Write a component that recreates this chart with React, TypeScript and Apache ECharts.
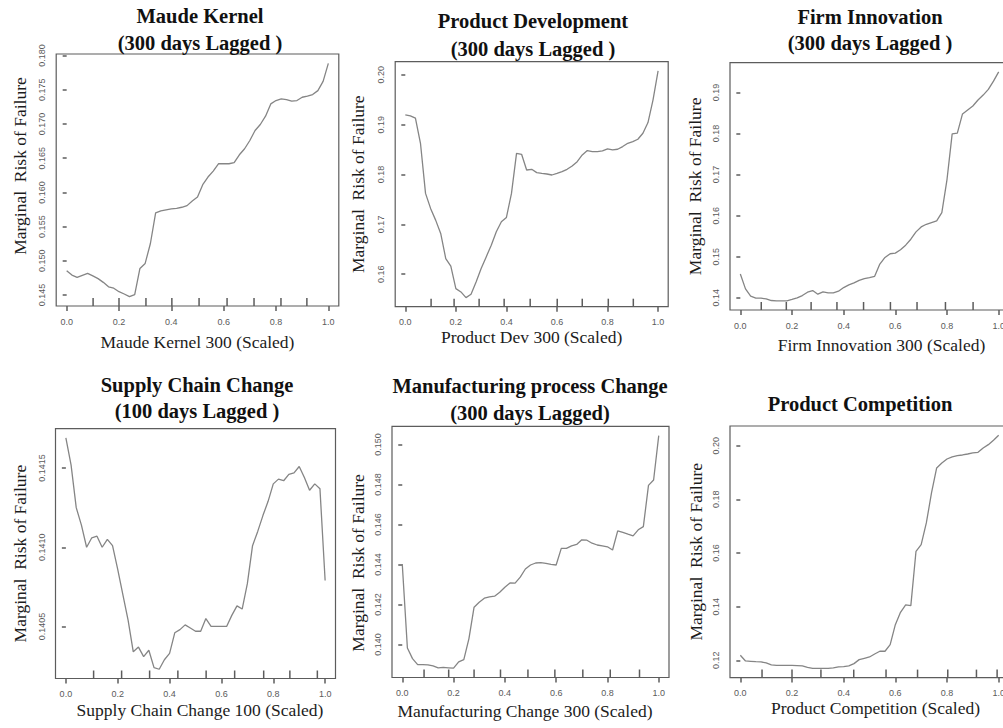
import React, { useEffect, useRef } from "react";
import * as echarts from "echarts";

// x grid used by the partial-dependence curves (51 points)
const X_GRID = [
  0, 0.02, 0.04, 0.06, 0.08, 0.1, 0.12, 0.14, 0.16, 0.18,
  0.2, 0.22, 0.24, 0.26, 0.28, 0.3, 0.32, 0.34, 0.36, 0.38,
  0.4, 0.42, 0.44, 0.46, 0.48, 0.5, 0.52, 0.54, 0.56, 0.58,
  0.6, 0.62, 0.64, 0.66, 0.68, 0.7, 0.72, 0.74, 0.76, 0.78,
  0.8, 0.82, 0.84, 0.86, 0.88, 0.9, 0.92, 0.94, 0.96, 0.98, 1.0,
];
const X_TICKS = [0, 0.2, 0.4, 0.6, 0.8, 1.0];

// Panel 1: Maude Kernel
const maudeY = [
  0.14855, 0.14792, 0.14758, 0.14787, 0.14816, 0.1478, 0.1474, 0.14685, 0.1462, 0.146,
  0.14549, 0.14515, 0.14476, 0.14505, 0.14889, 0.14962, 0.15253, 0.157, 0.15729, 0.15744,
  0.15759, 0.15768, 0.15783, 0.15807, 0.15875, 0.15933, 0.16113, 0.16225, 0.16312, 0.16419,
  0.16419, 0.16419, 0.16434, 0.1655, 0.16638, 0.16759, 0.16905, 0.16993, 0.17114, 0.17294,
  0.17343, 0.17367, 0.17357, 0.17333, 0.17343, 0.17391, 0.17406, 0.1743, 0.17488, 0.17624, 0.17887,
];
const maudeYTicks = [0.145, 0.15, 0.155, 0.16, 0.165, 0.17, 0.175, 0.18];
const maudeRug = [0.101, 0.2, 0.303, 0.402, 0.506, 0.613, 0.716, 0.819, 0.918];

// Panel 2: Product Development
const prodDevY = [
  0.19196, 0.19176, 0.19129, 0.18626, 0.17621, 0.1732, 0.17085, 0.16817, 0.16315, 0.16161,
  0.15712, 0.15645, 0.15531, 0.15598, 0.15846, 0.16114, 0.16348, 0.16583, 0.16851, 0.17052,
  0.17139, 0.17621, 0.18425, 0.18405, 0.1809, 0.18104, 0.18037, 0.18023, 0.1801, 0.1799,
  0.18023, 0.18057, 0.18104, 0.18171, 0.18258, 0.18392, 0.18479, 0.18459, 0.18459, 0.18472,
  0.18513, 0.18492, 0.18506, 0.1856, 0.18626, 0.1866, 0.18707, 0.18827, 0.19042, 0.19497, 0.2008,
];
const prodDevYTicks = [0.16, 0.17, 0.18, 0.19, 0.2];
const prodDevRug = [0.102, 0.193, 0.292, 0.391, 0.494, 0.601, 0.7, 0.803, 0.902];

// Panel 3: Firm Innovation
const firmY = [
  0.14581, 0.14218, 0.1404, 0.13992, 0.13992, 0.13976, 0.13935, 0.13927, 0.13927, 0.13927,
  0.1396, 0.14, 0.14056, 0.14137, 0.14177, 0.14089, 0.14145, 0.14121, 0.14121, 0.14161,
  0.1425, 0.14315, 0.14363, 0.14427, 0.14468, 0.14492, 0.14524, 0.14823, 0.14984, 0.15073,
  0.15089, 0.15169, 0.15282, 0.15427, 0.15605, 0.15726, 0.1579, 0.15831, 0.15871, 0.16073,
  0.16879, 0.17992, 0.18008, 0.18476, 0.18573, 0.18669, 0.18815, 0.18935, 0.19073, 0.19274, 0.195,
];
const firmYTicks = [0.14, 0.15, 0.16, 0.17, 0.18, 0.19];
const firmRug = [0.081, 0.178, 0.274, 0.374, 0.477, 0.581, 0.684, 0.794, 0.901];

// Panel 4: Supply Chain Change
const supplyY = [
  0.14169, 0.14152, 0.14125, 0.14114, 0.141, 0.14106, 0.14107, 0.141, 0.14105, 0.14101,
  0.14086, 0.1407, 0.14054, 0.14034, 0.14037, 0.14031, 0.14035, 0.14024, 0.14023, 0.14029,
  0.14033, 0.14046, 0.14048, 0.14051, 0.14049, 0.14047, 0.14047, 0.14055, 0.1405, 0.1405,
  0.1405, 0.1405, 0.14057, 0.14063, 0.14061, 0.14077, 0.14101, 0.1411, 0.1412, 0.14129,
  0.1414, 0.14143, 0.14142, 0.14146, 0.14147, 0.14151, 0.14144, 0.14136, 0.1414, 0.14137, 0.14079,
];
const supplyYTicks = [0.1405, 0.141, 0.1415];
const supplyRug = [0.107, 0.215, 0.323, 0.432, 0.541, 0.651, 0.763, 0.864, 0.97];

// Panel 5: Manufacturing process Change
const manufY = [
  0.14403, 0.13983, 0.1393, 0.139, 0.139, 0.13899, 0.13894, 0.13884, 0.13886, 0.13884,
  0.13882, 0.13914, 0.13925, 0.1403, 0.14187, 0.14212, 0.14232, 0.14239, 0.14242, 0.14262,
  0.14287, 0.14308, 0.14307, 0.14337, 0.14378, 0.14398, 0.14408, 0.1441, 0.14406, 0.14401,
  0.14398, 0.14481, 0.14481, 0.14494, 0.14501, 0.14524, 0.14522, 0.14507, 0.14498, 0.14494,
  0.14489, 0.14473, 0.14569, 0.14561, 0.14552, 0.14544, 0.14574, 0.1459, 0.14796, 0.14823, 0.15045,
];
const manufYTicks = [0.14, 0.142, 0.144, 0.146, 0.148, 0.15];
const manufRug = [0.085, 0.181, 0.28, 0.383, 0.49, 0.595, 0.704, 0.811, 0.925];

// Panel 6: Product Competition
const compY = [
  0.12187, 0.11975, 0.11963, 0.1195, 0.11938, 0.11901, 0.11826, 0.11814, 0.11814, 0.11814,
  0.11814, 0.11801, 0.11789, 0.11739, 0.11702, 0.11702, 0.11702, 0.11702, 0.11714, 0.11752,
  0.11764, 0.11789, 0.11876, 0.12025, 0.12075, 0.12124, 0.12236, 0.12336, 0.12336, 0.12584,
  0.13329, 0.13789, 0.14062, 0.14037, 0.16062, 0.16311, 0.17118, 0.18236, 0.19168, 0.19354,
  0.19503, 0.19578, 0.19627, 0.19652, 0.19689, 0.19727, 0.19752, 0.19913, 0.20037, 0.20199, 0.20385,
];
const compYTicks = [0.12, 0.14, 0.16, 0.18, 0.2];
const compRug = [0.084, 0.2, 0.312, 0.439, 0.564, 0.686, 0.803, 0.914, 0.994];

const Y_NAME = "Marginal  Risk of Failure";

const PANELS = [
  {
    title: "Maude Kernel\n(300 days Lagged )", tx: 200, ty: 29.3, tlh: 26.6,
    xName: "Maude Kernel 300 (Scaled)", box: [56.2, 54, 338.8, 306],
    ys: maudeY, yTicks: maudeYTicks, dec: 3, rug: maudeRug,
    xNameGap: 27, xNamePad: [0, 0, 0, 0], yNameGap: 27, yNamePad: [0, 0, 0, 28],
  },
  {
    title: "Product Development\n(300 days Lagged )", tx: 533, ty: 35.1, tlh: 28.8,
    xName: "Product Dev 300 (Scaled)", box: [395.2, 61.7, 668.2, 306.7],
    ys: prodDevY, yTicks: prodDevYTicks, dec: 2, rug: prodDevRug,
    xNameGap: 17, xNamePad: [0, 0, 0, 0], yNameGap: 28, yNamePad: [0, 0, 0, 0],
  },
  {
    title: "Firm Innovation\n(300 days Lagged )", tx: 870, ty: 29.7, tlh: 26,
    xName: "Firm Innovation 300 (Scaled)", box: [730, 62.7, 1009, 310],
    ys: firmY, yTicks: firmYTicks, dec: 2, rug: firmRug,
    xNameGap: 26, xNamePad: [0, 0, 0, 24], yNameGap: 26.5, yNamePad: [0, 0, 0, 0],
  },
  {
    title: "Supply Chain Change\n(100 days Lagged )", tx: 197, ty: 398, tlh: 26.6,
    xName: "Supply Chain Change 100 (Scaled)", box: [55.5, 428.7, 335.5, 678.5],
    ys: supplyY, yTicks: supplyYTicks, dec: 4, rug: supplyRug,
    xNameGap: 22, xNamePad: [0, 0, 0, 9], yNameGap: 27, yNamePad: [0, 0, 0, 0],
  },
  {
    title: "Manufacturing process Change\n(300 days Lagged)", tx: 530, ty: 399.5, tlh: 27.6,
    xName: "Manufacturing Change 300 (Scaled)", box: [392, 426.3, 669, 677.5],
    ys: manufY, yTicks: manufYTicks, dec: 3, rug: manufRug,
    xNameGap: 24.5, xNamePad: [0, 11, 0, 0], yNameGap: 25, yNamePad: [0, 22, 0, 0],
  },
  {
    title: "Product Competition", tx: 860, ty: 404, tlh: 26,
    xName: "Product Competition (Scaled)", box: [730, 426, 1009, 677.6],
    ys: compY, yTicks: compYTicks, dec: 2, rug: compRug,
    xNameGap: 21, xNamePad: [0, 0, 0, 12], yNameGap: 25, yNamePad: [0, 0, 0, 0],
  },
];

const BOX = "#5c5c5c";
const CURVE = "#858585";
const LABEL = "#5a5a5a";
const SANS = '"Liberation Sans", Arial, sans-serif';
const SERIF = '"Liberation Serif", "Times New Roman", serif';

export default function App() {
  const ref = useRef<HTMLDivElement>(null);
  useEffect(() => {
    if (!ref.current) return;
    const chart = echarts.init(ref.current, null, { renderer: "svg" });
    const grids: any[] = [];
    const xAxes: any[] = [];
    const yAxes: any[] = [];
    const series: any[] = [];
    const graphics: any[] = [];

    PANELS.forEach((p, i) => {
      const [l, t, r, b] = p.box;
      grids.push({
        left: l, top: t, width: r - l, height: b - t,
        show: true, borderColor: BOX, borderWidth: 1.2,
        backgroundColor: "transparent", containLabel: false, outerBoundsMode: "none",
      });
      const lo = Math.min(...p.ys);
      const hi = Math.max(...p.ys);
      const pad = (hi - lo) * 0.04;
      const yMin = lo - pad;
      xAxes.push({
        type: "value", gridIndex: i, min: -0.04, max: 1.04, position: "bottom",
        axisLine: { show: false }, splitLine: { show: false },
        axisTick: { show: true, customValues: X_TICKS, length: 5, lineStyle: { color: BOX, width: 1.5 } },
        axisLabel: {
          customValues: X_TICKS, formatter: (v: number) => v.toFixed(1),
          margin: 11, fontSize: 9, color: LABEL, fontFamily: SANS,
        },
        name: p.xName, nameLocation: "middle", nameGap: p.xNameGap,
        nameTextStyle: { fontFamily: SERIF, fontSize: 17.5, color: "#1c1c1c", padding: p.xNamePad },
      });
      yAxes.push({
        type: "value", gridIndex: i, min: yMin, max: hi + pad,
        axisLine: { show: false }, splitLine: { show: false },
        axisTick: { show: true, customValues: p.yTicks, length: 4, lineStyle: { color: BOX, width: 1.5 } },
        axisLabel: {
          customValues: p.yTicks, formatter: (v: number) => v.toFixed(p.dec),
          rotate: 90, margin: 9.5, fontSize: 9, color: LABEL, fontFamily: SANS,
        },
        name: Y_NAME, nameLocation: "middle", nameGap: p.yNameGap,
        nameTextStyle: { fontFamily: SERIF, fontSize: 17.5, color: "#1c1c1c", padding: p.yNamePad },
      });
      series.push({
        type: "line", xAxisIndex: i, yAxisIndex: i,
        data: X_GRID.map((x, j) => [x, p.ys[j]]),
        showSymbol: false, symbol: "none", silent: true,
        lineStyle: { color: CURVE, width: 1.3 },
      });
      // rug (decile) marks along the bottom of the box
      series.push({
        type: "custom", xAxisIndex: i, yAxisIndex: i, silent: true, clip: false,
        data: p.rug.map((x) => [x, yMin]),
        encode: { x: 0, y: 1 },
        renderItem: (params: any, api: any) => {
          const pt = api.coord([api.value(0), api.value(1)]);
          return {
            type: "line",
            shape: { x1: pt[0], y1: pt[1], x2: pt[0], y2: pt[1] - 8 },
            style: { stroke: BOX, lineWidth: 1.5 },
          };
        },
      });
      graphics.push({
        type: "text", x: p.tx, y: p.ty, silent: true,
        style: {
          text: p.title, align: "center", verticalAlign: "middle",
          fontFamily: SERIF, fontWeight: "bold", fontSize: 20.5, lineHeight: p.tlh, fill: "#111",
        },
      });
    });

    chart.setOption({
      animation: false,
      backgroundColor: "#fff",
      grid: grids,
      xAxis: xAxes,
      yAxis: yAxes,
      series,
      graphic: graphics,
    });
    return () => chart.dispose();
  }, []);
  return (
    <div
      ref={ref}
      style={{ position: "absolute", left: 0, top: 0, width: 1003, height: 728, background: "#fff" }}
    />
  );
}
